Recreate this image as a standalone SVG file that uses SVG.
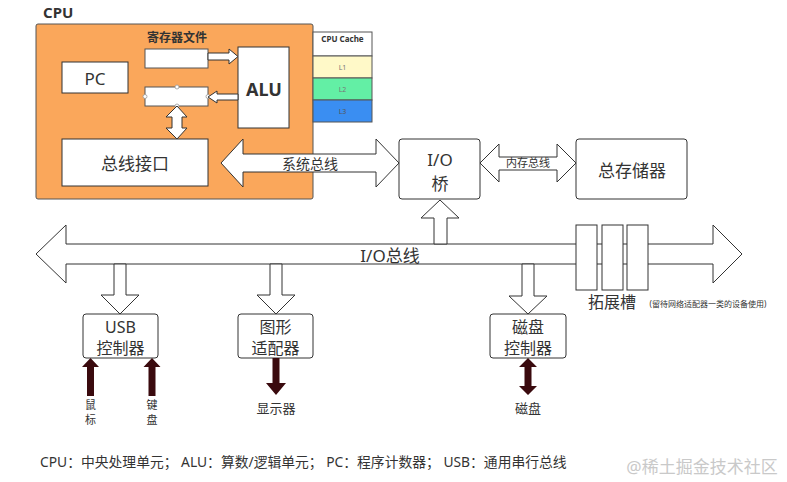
<svg xmlns="http://www.w3.org/2000/svg" width="787" height="482" viewBox="0 0 787 482">
<style>
  text { font-family: "Noto Sans", "Noto Sans CJK SC", sans-serif; fill: #333; }
  .c { text-anchor: middle; dominant-baseline: central; }
  .box { fill: #fff; stroke: #333; stroke-width: 1; }
  .hollow { fill: #fff; stroke: #333; stroke-width: 1; stroke-linejoin: miter; }
  .dark { fill: #3a0a0e; stroke: none; }
  .big { font-size: 17px; }
  .mid { font-size: 16px; }
  .sm { font-size: 11px; }
</style>
<rect width="787" height="482" fill="#fff"/>

<g id="cpu">
  <text x="43" y="18" style="font-size:15px;font-weight:bold">CPU</text>
  <rect x="36" y="24" width="277" height="175" rx="2" fill="#FAA75B" stroke="#555" stroke-width="1"/>
  <text x="177" y="37" class="c" style="font-size:12px;font-weight:bold">寄存器文件</text>
</g>

<g id="pc">
  <rect x="62" y="62" width="66" height="31" class="box"/>
  <text x="95" y="78" class="c big">PC</text>
</g>

<g id="reg1">
  <rect x="145" y="49" width="63" height="19" fill="#fff" stroke="#555"/>
</g>

<g id="reg2">
  <rect x="145" y="87" width="63" height="19" fill="#fff" stroke="#555"/>
  <g fill="#fff" stroke="#999" stroke-width="0.8">
    <circle cx="145" cy="96.5" r="2"/>
    <circle cx="177" cy="87" r="2"/>
    <circle cx="208" cy="96.5" r="2"/>
    <circle cx="177" cy="106" r="2"/>
  </g>
</g>

<g id="alu">
  <rect x="238" y="47" width="51" height="81" class="box"/>
  <text x="264" y="88.5" class="c" style="font-size:18px;font-weight:bold">ALU</text>
</g>

<g id="bus-interface">
  <rect x="62" y="139" width="146" height="47" class="box"/>
  <text x="135" y="163" class="c big">总线接口</text>
</g>

<g id="cpu-cache">
  <rect x="313" y="32" width="59" height="24" fill="#fff" stroke="#555"/>
  <rect x="313" y="56" width="59" height="22" fill="#FFF9C8" stroke="#555"/>
  <rect x="313" y="78" width="59" height="22" fill="#63EFA5" stroke="#555"/>
  <rect x="313" y="100" width="59" height="22" fill="#3A8EF2" stroke="#555"/>
  <text x="342.5" y="38" class="c" style="font-size:8px;font-weight:bold">CPU Cache</text>
  <text x="342.5" y="67" class="c" style="font-size:7px;fill:#777">L1</text>
  <text x="342.5" y="89" class="c" style="font-size:7px;fill:#777">L2</text>
  <text x="342.5" y="111" class="c" style="font-size:7px;fill:#555">L3</text>
</g>

<g id="io-bridge">
  <rect x="399" y="139" width="81" height="60" rx="3" class="box"/>
  <text x="440" y="159" class="c big">I/O</text>
  <text x="440" y="183" class="c big">桥</text>
</g>

<g id="memory">
  <rect x="576" y="139" width="111" height="60" rx="3" class="box"/>
  <text x="632" y="170" class="c big">总存储器</text>
</g>

<g id="usb">
  <rect x="83" y="314" width="75" height="44" rx="3" class="box"/>
  <text x="120.5" y="327" class="c mid">USB</text>
  <text x="120.5" y="348" class="c mid">控制器</text>
</g>

<g id="graphics">
  <rect x="238" y="314" width="75" height="44" rx="3" class="box"/>
  <text x="275.5" y="327" class="c mid">图形</text>
  <text x="275.5" y="348" class="c mid">适配器</text>
</g>

<g id="disk-ctrl">
  <rect x="490" y="314" width="76" height="44" rx="3" class="box"/>
  <text x="528" y="327" class="c mid">磁盘</text>
  <text x="528" y="348" class="c mid">控制器</text>
</g>

<g id="connectors">
  <!-- inside CPU -->
  <path class="hollow" d="M208,53 H229 V49 L238,56.5 L229,64 V60 H208 Z"/>
  <path class="hollow" d="M208,97 L217,91 V94 H238 V100 H217 V103 Z"/>
  <path class="hollow" d="M177,106 L187,117 H182 V128 H187 L177,139 L166,128 H172 V117 H166 Z"/>
  <!-- system bus -->
  <path class="hollow" d="M221,163 L243,139 V154 H376 V139 L399,163 L376,187 V172 H243 V187 Z"/>
  <!-- memory bus -->
  <path class="hollow" d="M480,163 L499,144 V157 H557 V144 L576,163 L557,182 V170 H499 V182 Z"/>
  <!-- I/O bus -->
  <path class="hollow" d="M36,254 L66,225 V244 H713 V225 L742,254 L713,283 V264 H66 V283 Z"/>
  <!-- bridge up -->
  <path class="hollow" d="M440,200 L459,218 H447 V244 H434 V218 H421 Z"/>
  <!-- down arrows to controllers -->
  <path class="hollow" d="M114,264 H126 V295 H139 L120,314 L101,295 H114 Z"/>
  <path class="hollow" d="M270,264 H282 V295 H295 L276,314 L257,295 H270 Z"/>
  <path class="hollow" d="M522,264 H534 V296 H547 L528,314 L509,296 H522 Z"/>
  <!-- dark device arrows -->
  <path class="dark" d="M90.5,358 L99,367 H94 V396 H87 V367 H82 Z"/>
  <path class="dark" d="M152,358 L160.5,367 H155.5 V396 H148.5 V367 H143.5 Z"/>
  <path class="dark" d="M272.5,358 H279.5 V383 H286 L276,395 L266,383 H272.5 Z"/>
  <path class="dark" d="M528,358 L537,367 H531.5 V386 H537 L528,395 L519,386 H524.5 V367 H519 Z"/>
</g>

<g id="slots">
  <rect x="576" y="225" width="21" height="65" class="box"/>
  <rect x="602" y="225" width="21" height="65" class="box"/>
  <rect x="627" y="225" width="21" height="65" class="box"/>
</g>

<g id="labels">
  <text x="310" y="163" class="c" style="font-size:14px">系统总线</text>
  <text x="528" y="162" class="c" style="font-size:11px">内存总线</text>
  <text x="390" y="255" class="c big">I/O总线</text>
  <text x="612" y="302" class="c mid">拓展槽</text>
  <text x="708" y="303" class="c" style="font-size:8px">(留待网络适配器一类的设备使用)</text>
  <text x="90.5" y="404" class="c sm">鼠</text>
  <text x="90.5" y="419" class="c sm">标</text>
  <text x="152" y="404" class="c sm">键</text>
  <text x="152" y="419" class="c sm">盘</text>
  <text x="276" y="408" class="c" style="font-size:13px">显示器</text>
  <text x="528" y="408" class="c" style="font-size:13px">磁盘</text>
  <text x="40" y="461" style="font-size:13.8px" dominant-baseline="central">CPU：中央处理单元； ALU：算数/逻辑单元； PC：程序计数器； USB：通用串行总线</text>
  <text x="702" y="466" class="c" style="font-size:17px;fill:#c9c9c9">@稀土掘金技术社区</text>
</g>
</svg>
